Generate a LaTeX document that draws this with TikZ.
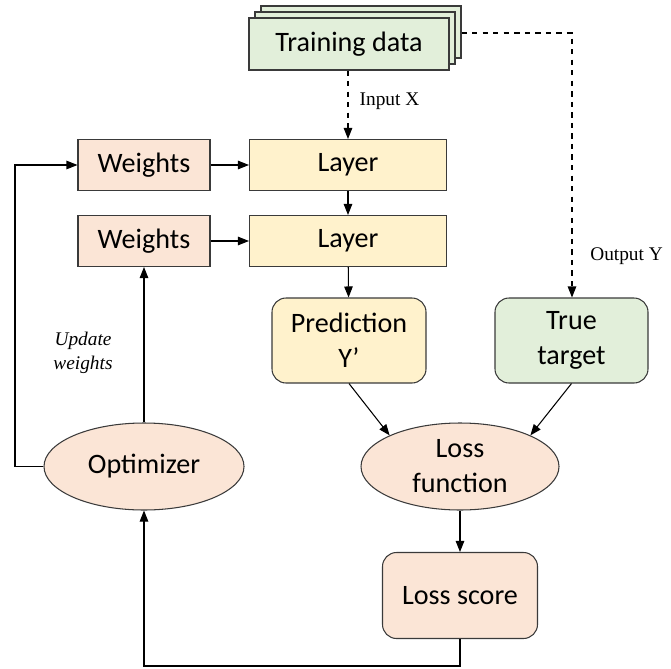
\documentclass[tikz,border=0pt]{standalone}
\usepackage{fontspec}
\setmainfont{Carlito}
\newfontfamily\labelfont{Liberation Serif}
\usetikzlibrary{shapes.geometric,arrows.meta,calc}

\definecolor{peach}{HTML}{FBE5D6}
\definecolor{cream}{HTML}{FFF2CC}
\definecolor{mint}{HTML}{E2EFDA}
\definecolor{edge}{HTML}{3A3A3A}

\begin{document}
\begin{tikzpicture}[
    box/.style={rectangle, draw=edge, line width=0.6pt, align=center, font=\fontsize{16}{20}\selectfont},
    rbox/.style={box, rounded corners=8pt},
    oval/.style={ellipse, draw=edge, line width=0.6pt, align=center, inner sep=0pt, font=\fontsize{16}{20}\selectfont},
    label/.style={font=\labelfont\fontsize{11}{14}\selectfont},
    arrow/.style={-{Triangle[length=2.2mm, width=1.7mm]}, line width=0.6pt},
]
\useasboundingbox (0,0) rectangle (13.42,-13.36);

% ====== Training data (stacked) ======
\node[box, fill=mint, minimum width=4cm, minimum height=1.04cm] (trainB) at (7.22, -0.64) {};
\node[box, fill=mint, minimum width=4cm, minimum height=1.04cm] (trainM) at (7.10, -0.76) {};
\node[box, fill=mint, minimum width=4cm, minimum height=1.04cm] (train) at (6.98, -0.88) {Training data};

% ====== Network ======
\node[box, fill=peach, minimum width=2.64cm, minimum height=1.02cm] (w1) at (2.88, -3.3) {Weights};
\node[box, fill=cream, minimum width=3.94cm, minimum height=1.02cm] (l1) at (6.96, -3.3) {Layer};
\node[box, fill=peach, minimum width=2.64cm, minimum height=1.02cm] (w2) at (2.88, -4.82) {Weights};
\node[box, fill=cream, minimum width=3.94cm, minimum height=1.02cm] (l2) at (6.96, -4.82) {Layer};

\node[rbox, fill=cream, minimum width=3.08cm, minimum height=1.7cm] (pred) at (6.98, -6.81) {Prediction\\Y’};
\node[rbox, fill=mint, minimum width=3.06cm, minimum height=1.7cm] (target) at (11.43, -6.81) {True\\target};

\node[oval, fill=peach, minimum width=3.96cm, minimum height=1.74cm] (lossf) at (9.2, -9.33) {Loss\\function};
\node[oval, fill=peach, minimum width=4cm, minimum height=1.74cm] (opt) at (2.88, -9.33) {Optimizer};
\node[rbox, fill=peach, minimum width=3.1cm, minimum height=1.72cm] (score) at (9.2, -11.91) {Loss score};

% ====== Helper corners ======
\coordinate (yturn) at (11.44, -0.66);
\coordinate (bl) at (2.88, -13.32);
\coordinate (br) at (9.2, -13.32);
\coordinate (lt) at (0.3, -3.3);
\coordinate (lb) at (0.3, -9.33);

% ====== Data flow ======
\draw[arrow, dashed] (train.south -| l1.north) -- node[label, right=3pt, pos=0.45] {Input X} (l1.north);
\draw[arrow, dashed] (trainB.east |- yturn) -- (yturn) -- (target.north -| yturn);
\node[label, anchor=east] (outy) at (13.38, -5.12) {Output Y};

\draw[arrow] (w1) -- (l1);
\draw[arrow] (w2) -- (l2);
\draw[arrow] (l1) -- (l2);
\draw[arrow] (l2) -- (pred);
\draw[arrow] (pred.south) -- (lossf.north west);
\draw[arrow] (target.south) -- (lossf.north east);
\draw[arrow] (lossf) -- (score);

% ====== Feedback ======
\draw[arrow] (score.south) -- (br) -- (bl) -- (opt.south);
\draw[arrow] (opt.north) -- (w2.south);
\draw[arrow] (opt.west) -- (lb) -- (lt) -- (w1.west);
\node[label, font=\labelfont\itshape\fontsize{11}{14}\selectfont, align=center] (upd) at (1.66, -7.06) {Update\\weights};

\end{tikzpicture}
\end{document}
